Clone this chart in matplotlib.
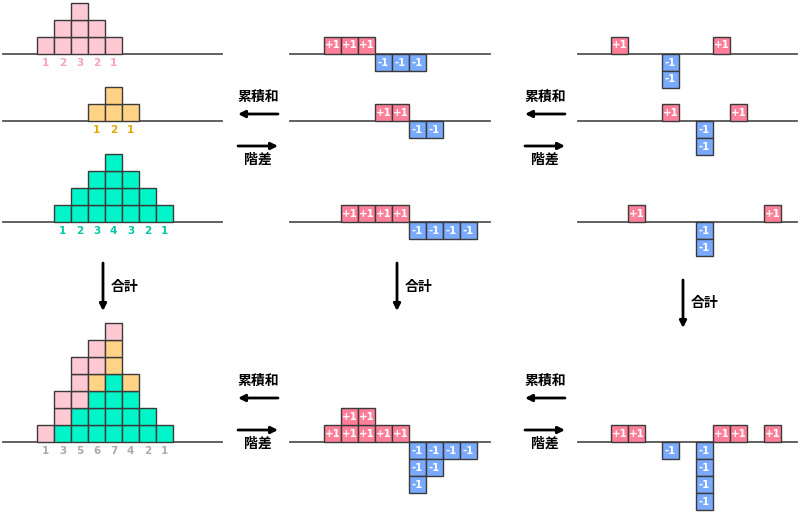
import numpy as np
import matplotlib
matplotlib.use("Agg")
import matplotlib.pyplot as plt
from matplotlib.patches import Rectangle

plt.rcParams['font.family'] = ['Noto Sans CJK JP', 'DejaVu Sans']

# column values (index = column)
pink = [1, 2, 3, 2, 1, 0, 0, 0]
yellow = [0, 0, 0, 1, 2, 1, 0, 0]
teal = [0, 1, 2, 3, 4, 3, 2, 1]
total = [1, 3, 5, 6, 7, 4, 2, 1]

# first differences
d1_pink = [1, 1, 1, -1, -1, -1, 0, 0, 0]
d1_yellow = [0, 0, 0, 1, 1, -1, -1, 0, 0]
d1_teal = [0, 1, 1, 1, 1, -1, -1, -1, -1]
d1_total = [1, 2, 2, 1, 1, -3, -2, -1, -1]

# second differences
d2_pink = [1, 0, 0, -2, 0, 0, 1, 0, 0, 0]
d2_yellow = [0, 0, 0, 1, 0, -2, 0, 1, 0, 0]
d2_teal = [0, 1, 0, 0, 0, -2, 0, 0, 0, 1]
d2_total = [1, 1, 0, -1, 0, -4, 1, 1, 0, 1]

C_PINK = "#ffc9d4"
C_YELLOW = "#ffd386"
C_TEAL = "#00f5c8"
C_PLUS = "#ff7f98"
C_MINUS = "#7aaaff"
LBL_COLORS = ["#f7a3b8", "#e5a800", "#00c9a7", "#aaaaaa"]

CELL = 17
ROW_BASE = [53.5, 121, 222, 442]
LEFT_X0, MID_X0, RIGHT_X0 = 37, 324, 611
BASE_SPAN = [(3, 222), (290, 490), (578, 797)]

fig = plt.figure(figsize=(8, 5.13), dpi=100)
ax = fig.add_axes([0, 0, 1, 1])
ax.set_xlim(0, 800)
ax.set_ylim(513, 0)
ax.axis("off")


def cell(x, y, color, text=None):
    ax.add_patch(Rectangle((x, y), CELL, CELL, facecolor=color,
                           edgecolor="#3a3a3a", lw=1.0, zorder=3))
    if text:
        ax.text(x + CELL / 2, y + CELL / 2 + 0.5, text, color="white",
                fontsize=7.3, fontweight="bold", ha="center", va="center",
                family="DejaVu Sans", zorder=4)


def baseline(col, y):
    x0, x1 = BASE_SPAN[col]
    ax.plot([x0, x1], [y, y], color="#555555", lw=1.3, zorder=2)


# left column
for r, (vals, col) in enumerate([(pink, C_PINK), (yellow, C_YELLOW), (teal, C_TEAL)]):
    base = ROW_BASE[r]
    baseline(0, base)
    for k, v in enumerate(vals):
        for j in range(v):
            cell(LEFT_X0 + k * CELL, base - (j + 1) * CELL, col)
        if v:
            ax.text(LEFT_X0 + k * CELL + CELL / 2, base + 9, str(v),
                    color=LBL_COLORS[r], fontsize=7.5, fontweight="bold",
                    ha="center", va="center", family="DejaVu Sans")

# stacked total
base = ROW_BASE[3]
baseline(0, base)
for k in range(len(total)):
    h = 0
    for vals, col in [(teal, C_TEAL), (yellow, C_YELLOW), (pink, C_PINK)]:
        for j in range(vals[k]):
            cell(LEFT_X0 + k * CELL, base - (h + 1) * CELL, col)
            h += 1
    ax.text(LEFT_X0 + k * CELL + CELL / 2, base + 9, str(total[k]),
            color=LBL_COLORS[3], fontsize=7.5, fontweight="bold",
            ha="center", va="center", family="DejaVu Sans")


def diff_row(vals, x0, base, colidx):
    baseline(colidx, base)
    for k, v in enumerate(vals):
        x = x0 + k * CELL
        if v > 0:
            for j in range(v):
                cell(x, base - (j + 1) * CELL, C_PLUS, "+1")
        elif v < 0:
            for j in range(-v):
                cell(x, base + j * CELL, C_MINUS, "-1")


for r, vals in enumerate([d1_pink, d1_yellow, d1_teal, d1_total]):
    diff_row(vals, MID_X0, ROW_BASE[r], 1)
for r, vals in enumerate([d2_pink, d2_yellow, d2_teal, d2_total]):
    diff_row(vals, RIGHT_X0, ROW_BASE[r], 2)


def harrows(xc, y_top):
    ax.text(xc, y_top, "累積和", fontsize=10, fontweight="bold",
            ha="center", va="center")
    ax.annotate("", xy=(xc - 20, y_top + 17), xytext=(xc + 20, y_top + 17),
                arrowprops=dict(arrowstyle="-|>", color="black", lw=2,
                                mutation_scale=10, shrinkA=0, shrinkB=0))
    ax.annotate("", xy=(xc + 20, y_top + 49), xytext=(xc - 20, y_top + 49),
                arrowprops=dict(arrowstyle="-|>", color="black", lw=2,
                                mutation_scale=10, shrinkA=0, shrinkB=0))
    ax.text(xc, y_top + 63, "階差", fontsize=10, fontweight="bold",
            ha="center", va="center")


def varrow(x, y0, y1, ty):
    ax.annotate("", xy=(x, y1), xytext=(x, y0),
                arrowprops=dict(arrowstyle="-|>", color="black", lw=2,
                                mutation_scale=10, shrinkA=0, shrinkB=0))
    ax.text(x + 8, ty, "合計", fontsize=10, fontweight="bold",
            ha="left", va="center")


harrows(258, 97)
harrows(545, 97)
harrows(258, 381)
harrows(545, 381)

varrow(103, 263, 311, 287)
varrow(397, 263, 311, 287)
varrow(683, 280, 328, 303)

fig.savefig("out.png", dpi=100)
